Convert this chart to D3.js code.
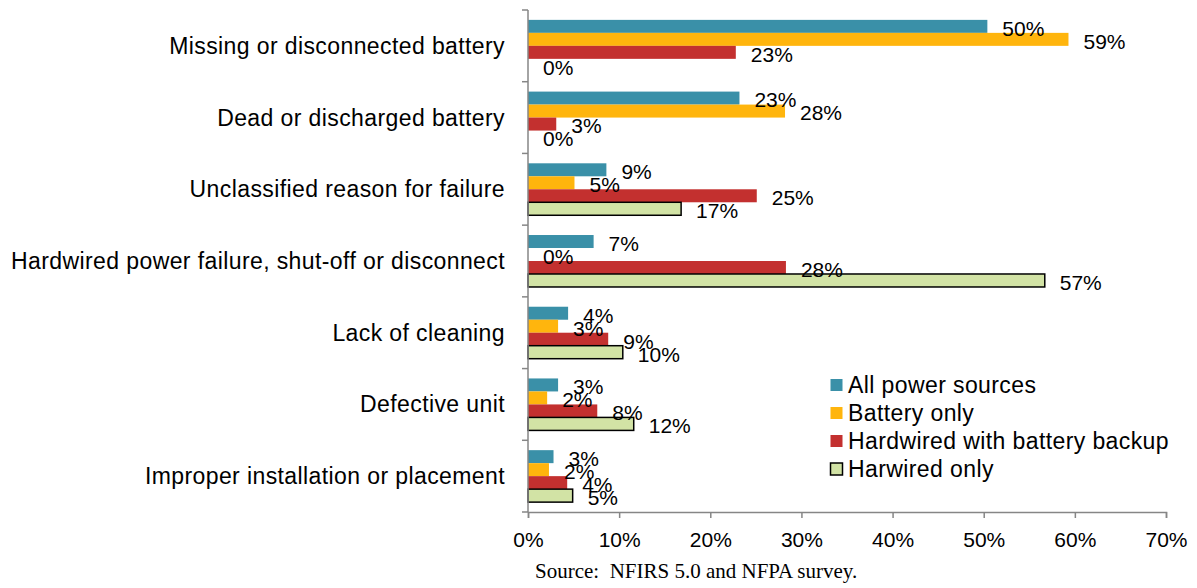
<!DOCTYPE html>
<html lang="en">
<head>
<meta charset="utf-8">
<title>Smoke alarm failure reasons</title>
<script src="https://cdn.jsdelivr.net/npm/d3@7"></script>
<style>
  body { margin: 0; padding: 0; background: #fff; }
  text { font-family: "Liberation Sans", Arial, sans-serif; fill: #000; }
  .source { font-family: "Liberation Serif", "Times New Roman", serif; white-space: pre; }
</style>
</head>
<body>
<div id="chart"></div>
<script>
// categories, top to bottom
var categories = [
  "Missing or disconnected battery",
  "Dead or discharged battery",
  "Unclassified reason for failure",
  "Hardwired power failure, shut-off or disconnect",
  "Lack of cleaning",
  "Defective unit",
  "Improper installation or placement"
];

var seriesNames = ["All power sources", "Battery only", "Hardwired with battery backup", "Harwired only"];
var seriesColors = ["#3A90A8", "#FFB50D", "#C3302F", "#D2E3A5"];

// values in percent, one array per series (same order as categories)
var allPower  = [50.4, 23.2, 8.6, 7.2, 4.4, 3.3, 2.8];
var battery   = [59.3, 28.2, 5.1, 0.0, 3.3, 2.1, 2.3];
var hwBackup  = [22.8, 3.1, 25.1, 28.3, 8.8, 7.6, 4.3];
var hwOnly    = [0.0, 0.0, 16.8, 56.7, 10.4, 11.6, 4.9];
var seriesValues = [allPower, battery, hwBackup, hwOnly];

var xTicks = [0, 10, 20, 30, 40, 50, 60, 70];

var W = 1197, H = 588;
var pLeft = 528, pRight = 1166, pTop = 10, pBottom = 512;

var svg = d3.select("#chart").append("svg")
  .attr("width", W).attr("height", H);

var x = d3.scaleLinear().domain([0, 70]).range([pLeft, pRight]);
var y0 = d3.scaleBand().domain(categories).range([pTop, pBottom]).padding(0);
var y1 = d3.scaleBand().domain(d3.range(4)).range([0, y0.bandwidth()])
  .paddingInner(0).paddingOuter(0.76);

// bars
var rows = [];
categories.forEach(function(c, i) {
  seriesValues.forEach(function(s, j) {
    rows.push({cat: c, s: j, v: s[i]});
  });
});

var g = svg.append("g");
g.selectAll("rect.bar").data(rows).enter().append("rect")
  .attr("class", "bar")
  .attr("x", x(0))
  .attr("y", function(d) { return y0(d.cat) + y1(d.s); })
  .attr("width", function(d) { return x(d.v) - x(0); })
  .attr("height", y1.bandwidth())
  .attr("fill", function(d) { return seriesColors[d.s]; })
  .attr("stroke", function(d) { return d.s === 3 && d.v > 0 ? "#000" : "none"; })
  .attr("stroke-width", 1.5);

// data labels
g.selectAll("text.lbl").data(rows).enter().append("text")
  .attr("class", "lbl")
  .attr("x", function(d) { return x(d.v) + 15; })
  .attr("y", function(d) { return y0(d.cat) + y1(d.s) + y1.bandwidth() / 2 + 2; })
  .attr("dy", "0.35em")
  .attr("font-size", "21px")
  .text(function(d) { return Math.round(d.v) + "%"; });

// left axis
var yAxis = svg.append("g").attr("transform", "translate(" + pLeft + ",0)");
yAxis.append("line").attr("y1", pTop).attr("y2", pBottom).attr("stroke", "#868686").attr("stroke-width", 1.5);
var bounds = categories.map(function(c) { return y0(c); }).concat([pBottom]);
yAxis.selectAll("line.tk").data(bounds).enter().append("line")
  .attr("class", "tk").attr("x1", -6).attr("x2", 0)
  .attr("y1", function(d) { return d; }).attr("y2", function(d) { return d; })
  .attr("stroke", "#868686").attr("stroke-width", 1.5);
yAxis.selectAll("text").data(categories).enter().append("text")
  .attr("x", -23)
  .attr("y", function(c) { return y0(c) + y0.bandwidth() / 2; })
  .attr("dy", "0.35em")
  .attr("text-anchor", "end")
  .attr("font-size", "23px")
  .attr("letter-spacing", "0.4px")
  .text(function(c) { return c; });

// bottom axis
var xAxis = svg.append("g").attr("transform", "translate(0," + pBottom + ")")
  .call(d3.axisBottom(x).tickValues(xTicks).tickSize(6).tickPadding(14)
    .tickFormat(function(d) { return d + "%"; }));
xAxis.select(".domain").attr("stroke", "#868686").attr("stroke-width", 1.5);
xAxis.selectAll(".tick line").attr("stroke", "#868686").attr("stroke-width", 1.5);
xAxis.selectAll(".tick text").attr("font-size", "21px").attr("font-family", "Liberation Sans, Arial, sans-serif").attr("fill", "#000");

// legend
var legend = svg.append("g").attr("transform", "translate(830,385)");
var li = legend.selectAll("g").data(seriesNames).enter().append("g")
  .attr("transform", function(d, i) { return "translate(0," + (i * 28) + ")"; });
li.append("rect")
  .attr("x", 0.5).attr("y", -6).attr("width", 12).attr("height", 12)
  .attr("fill", function(d, i) { return seriesColors[i]; })
  .attr("stroke", function(d, i) { return i === 3 ? "#000" : "none"; })
  .attr("stroke-width", 1.5);
li.append("text")
  .attr("x", 18).attr("dy", "0.35em")
  .attr("font-size", "23px")
  .attr("letter-spacing", "0.4px")
  .text(function(d) { return d; });

// source note
svg.append("text")
  .attr("class", "source")
  .attr("x", 535).attr("y", 571)
  .attr("dy", "0.35em")
  .attr("font-size", "21px")
  .text("Source:  NFIRS 5.0 and NFPA survey.");
</script>
</body>
</html>
